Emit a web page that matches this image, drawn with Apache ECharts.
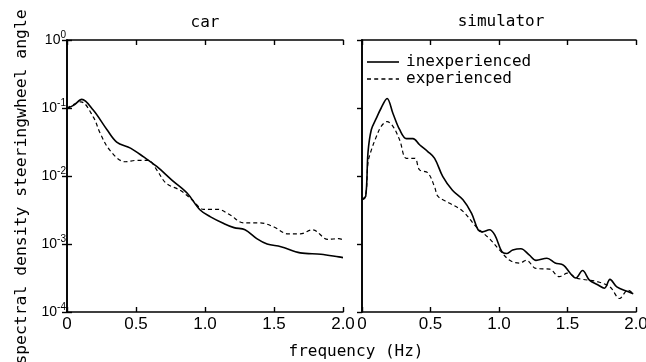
<!DOCTYPE html>
<html>
<head>
<meta charset="utf-8">
<script src="https://cdn.jsdelivr.net/npm/echarts@6/dist/echarts.min.js"></script>
<style>html,body{margin:0;padding:0;background:#fff}#c{width:646px;height:362px}</style>
</head>
<body>
<div id="c"></div>
<script>
// ---- data (frequency in Hz, spectral density) ----
const xTicks = [0, 0.5, 1.0, 1.5, 2.0];
const yTickLabels = {'1': '0', '0.1': '-1', '0.01': '-2', '0.001': '-3', '0.0001': '-4'};

const carInexpF = [0, 0.05, 0.107, 0.19, 0.29, 0.36, 0.46, 0.555, 0.65, 0.76, 0.87, 0.965, 1.04, 1.136, 1.21, 1.29, 1.375, 1.45, 1.55, 1.69, 1.84, 1.97, 2.0];
const carInexpV = [0.0989, 0.110, 0.134, 0.0933, 0.0479, 0.0316, 0.0257, 0.0191, 0.0138, 0.0087, 0.00562, 0.00316, 0.00251, 0.00200, 0.00174, 0.00162, 0.00120, 0.00100, 0.000912, 0.000741, 0.000708, 0.000646, 0.000631];

const carExpF = [0, 0.1, 0.19, 0.24, 0.31, 0.42, 0.51, 0.59, 0.65, 0.72, 0.82, 0.906, 0.99, 1.09, 1.18, 1.28, 1.40, 1.5, 1.6, 1.69, 1.78, 1.89, 1.97, 2.0];
const carExpV = [0.0989, 0.123, 0.0741, 0.0427, 0.0240, 0.0162, 0.0170, 0.0170, 0.0123, 0.00776, 0.00617, 0.00447, 0.00324, 0.00324, 0.00269, 0.00204, 0.00204, 0.00178, 0.00141, 0.00141, 0.00162, 0.00117, 0.00120, 0.00115];

const simInexpF = [0, 0.027, 0.044, 0.068, 0.105, 0.14, 0.183, 0.226, 0.275, 0.324, 0.372, 0.42, 0.48, 0.53, 0.59, 0.66, 0.737, 0.80, 0.847, 0.88, 0.93, 0.97, 1.02, 1.054, 1.10, 1.16, 1.22, 1.27, 1.35, 1.41, 1.47, 1.52, 1.56, 1.61, 1.66, 1.72, 1.77, 1.81, 1.86, 1.94, 1.98];
const simInexpV = [0.00447, 0.00501, 0.0224, 0.0479, 0.0708, 0.100, 0.138, 0.0832, 0.0479, 0.0355, 0.0355, 0.0288, 0.0229, 0.0182, 0.00977, 0.00617, 0.00447, 0.00282, 0.00162, 0.00151, 0.00162, 0.00135, 0.000776, 0.000724, 0.000813, 0.000851, 0.000692, 0.000575, 0.000617, 0.000525, 0.000490, 0.000372, 0.000316, 0.000407, 0.000295, 0.000251, 0.000224, 0.000302, 0.000234, 0.000200, 0.000186];

const simExpF = [0, 0.027, 0.044, 0.068, 0.105, 0.14, 0.183, 0.226, 0.275, 0.324, 0.385, 0.42, 0.48, 0.53, 0.555, 0.64, 0.737, 0.835, 0.93, 1.005, 1.078, 1.15, 1.2, 1.27, 1.37, 1.44, 1.50, 1.565, 1.61, 1.71, 1.81, 1.88, 1.94, 1.98];
const simExpV = [0.00447, 0.00525, 0.0158, 0.0240, 0.0380, 0.0537, 0.0631, 0.0537, 0.0339, 0.0182, 0.0182, 0.0123, 0.0112, 0.00692, 0.00501, 0.00398, 0.00302, 0.00178, 0.00120, 0.000813, 0.000575, 0.000525, 0.000575, 0.000437, 0.000427, 0.000331, 0.000372, 0.000316, 0.000302, 0.000282, 0.000234, 0.000158, 0.000209, 0.000186];

const panelTitles = ['car', 'simulator'];
const seriesNames = ['inexperienced', 'experienced'];
const xName = 'frequency (Hz)';
const yName = 'spectral density steeringwheel angle';

// ---- chart ----
const pairs = (f, v) => f.map((x, i) => [x, v[i]]);
const MONO = '"DejaVu Sans Mono", monospace';
const SANS = '"Liberation Sans", Arial, sans-serif';
const lineAx = {show: true, lineStyle: {color: '#000', width: 1.6}};
const tickIn = {show: true, inside: true, length: 5, lineStyle: {color: '#000', width: 1.4}};

function xAx(gridIndex, pos, labels) {
  return {
    type: 'value', gridIndex, position: pos, min: 0, max: 2, interval: 0.5,
    axisLine: lineAx, axisTick: tickIn, splitLine: {show: false},
    axisLabel: {show: labels, color: '#000', fontFamily: SANS, fontSize: 17, margin: 4,
      formatter: v => v === 0 ? '0' : v.toFixed(1)}
  };
}
function yAx(gridIndex, pos, labels, ticks, name) {
  return {
    type: 'log', logBase: 10, gridIndex, position: pos, min: 0.0001, max: 1,
    axisLine: lineAx, axisTick: Object.assign({}, tickIn, {show: ticks}),
    splitLine: {show: false}, minorTick: {show: false},
    name: name || '', nameLocation: 'middle', nameRotate: 90, nameGap: 37,
    nameMoveOverlap: false,
    nameTextStyle: {color: '#000', fontFamily: MONO, fontSize: 16.4, padding: [0, 22, 0, 0]},
    axisLabel: {show: labels, color: '#000', margin: 1,
      formatter: v => {
        const key = String(+v.toPrecision(6));
        return '{b|10}{s|' + (yTickLabels[key] || '') + '}';
      },
      rich: {
        b: {fontFamily: SANS, fontSize: 14, color: '#000'},
        s: {fontFamily: SANS, fontSize: 10, color: '#000', padding: [0, 0, 10, 0]}
      }}
  };
}

// legend icons: a solid bar and a dashed bar
const solidIcon = 'path://M0,0H40V2H0Z';
const dashedIcon = 'path://M0,0H5V2H0Z M9,0H14V2H9Z M18,0H23V2H18Z M27,0H32V2H27Z M36,0H40V2H36Z';

const chart = echarts.init(document.getElementById('c'), null, {renderer: 'canvas'});
chart.setOption({
  animation: false,
  backgroundColor: '#fff',
  title: [
    {text: panelTitles[0], left: 205, top: 15, textAlign: 'center', padding: 0,
     textStyle: {fontFamily: MONO, fontSize: 16, fontWeight: 'normal', color: '#000'}},
    {text: panelTitles[1], left: 501, top: 14, textAlign: 'center', padding: 0,
     textStyle: {fontFamily: MONO, fontSize: 16, fontWeight: 'normal', color: '#000'}},
    {text: xName, left: 356, top: 344, textAlign: 'center', padding: 0,
     textStyle: {fontFamily: MONO, fontSize: 16, fontWeight: 'normal', color: '#000'}}
  ],
  legend: {
    data: [{name: seriesNames[0], icon: solidIcon}, {name: seriesNames[1], icon: dashedIcon}],
    orient: 'vertical', left: 367, top: 54, padding: 0,
    itemGap: 1, itemWidth: 36, itemHeight: 1.6,
    itemStyle: {color: '#000', borderWidth: 0},
    textStyle: {fontFamily: MONO, fontSize: 16, color: '#000', lineHeight: 16},
    inactiveColor: '#000'
  },
  grid: [
    {left: 67, top: 40, width: 276, height: 272, outerBoundsMode: 'none', containLabel: false},
    {left: 362, top: 40, width: 274, height: 272, outerBoundsMode: 'none', containLabel: false}
  ],
  xAxis: [xAx(0, 'bottom', true), xAx(0, 'top', false), xAx(1, 'bottom', true), xAx(1, 'top', false)],
  yAxis: [yAx(0, 'left', true, true, yName), yAx(0, 'right', false, true), yAx(1, 'left', false, false), yAx(1, 'right', false, true)],
  series: [
    {name: seriesNames[0], type: 'line', xAxisIndex: 0, yAxisIndex: 0, data: pairs(carInexpF, carInexpV),
     symbol: 'none', smooth: 0.35, lineStyle: {color: '#000', width: 1.6}, itemStyle: {color: '#000'}},
    {name: seriesNames[1], type: 'line', xAxisIndex: 0, yAxisIndex: 0, data: pairs(carExpF, carExpV),
     symbol: 'none', smooth: 0.35, lineStyle: {color: '#000', width: 1.2, type: [4, 3]}, itemStyle: {color: '#000'}},
    {name: seriesNames[0], type: 'line', xAxisIndex: 2, yAxisIndex: 2, data: pairs(simInexpF, simInexpV),
     symbol: 'none', smooth: 0.35, lineStyle: {color: '#000', width: 1.6}, itemStyle: {color: '#000'}},
    {name: seriesNames[1], type: 'line', xAxisIndex: 2, yAxisIndex: 2, data: pairs(simExpF, simExpV),
     symbol: 'none', smooth: 0.35, lineStyle: {color: '#000', width: 1.2, type: [4, 3]}, itemStyle: {color: '#000'}}
  ]
});
</script>
</body>
</html>
